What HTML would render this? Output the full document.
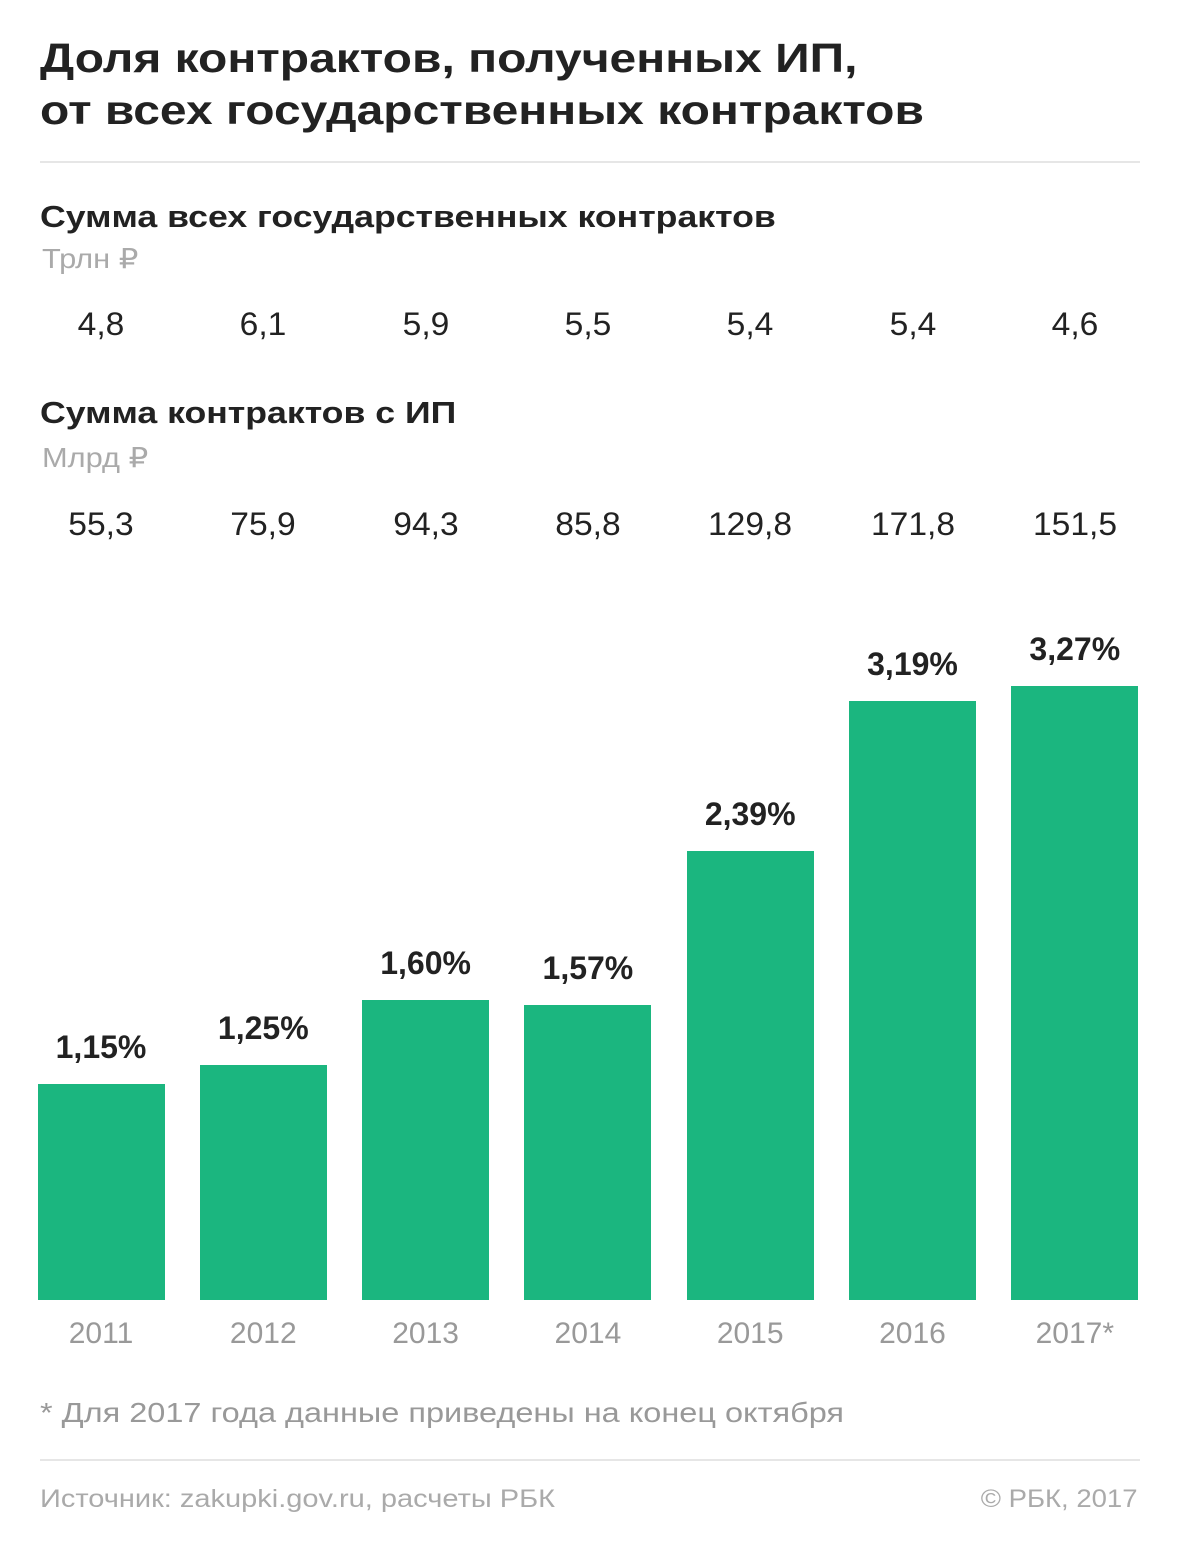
<!DOCTYPE html>
<html><head><meta charset="utf-8">
<style>
body{margin:0;background:#fff;font-family:"Liberation Sans","DejaVu Sans",sans-serif;}
#root{position:relative;width:1180px;height:1546px;overflow:hidden;}
.t{position:absolute;white-space:nowrap;}
.sx{transform-origin:0 0;transform:scaleX(1.16);}
.title{left:40px;font-size:41px;font-weight:bold;color:#222;line-height:52px;transform-origin:0 0;transform:scaleX(1.17);}
.hr{position:absolute;left:40px;width:1100px;height:2px;background:#e6e6e6;}
.sub{left:40px;font-size:31px;font-weight:bold;color:#222;transform-origin:0 0;transform:scaleX(1.15);}
.unit{left:42px;font-size:28px;color:#aaa;transform-origin:0 0;transform:scaleX(1.1);}
.val{font-size:32px;color:#222;transform:translateX(-50%) scaleX(1.05);}
.yr{font-size:30px;color:#999;transform:translateX(-50%);}
.pct{font-size:32px;font-weight:bold;color:#222;transform:translateX(-50%);}
</style></head><body>
<div id="root">
<div class="t title" style="top:32px">Доля контрактов, полученных ИП,<br>от всех государственных контрактов</div>
<div class="hr" style="top:161px"></div>
<div class="t sub" style="top:199px">Сумма всех государственных контрактов</div>
<div class="t unit" style="top:242px">Трлн ₽</div>
<div class="t sub" style="top:395px">Сумма контрактов с ИП</div>
<div class="t unit" style="top:441px">Млрд ₽</div>
<div class="t sx" style="left:40px;top:1397px;font-size:28px;color:#999">* Для 2017 года данные приведены на конец октября</div>
<div class="hr" style="top:1459px"></div>
<div class="t sx" style="left:40px;top:1485px;font-size:25px;color:#aaa">Источник: zakupki.gov.ru, расчеты РБК</div>
<div class="t" style="right:42px;top:1485px;font-size:25px;color:#aaa;transform-origin:100% 0;transform:scaleX(1.1)">© РБК, 2017</div>
</div>
<script>
const years=["2011","2012","2013","2014","2015","2016","2017*"];
const totals=["4,8","6,1","5,9","5,5","5,4","5,4","4,6"];
const ipSums=["55,3","75,9","94,3","85,8","129,8","171,8","151,5"];
const shares=[1.15,1.25,1.60,1.57,2.39,3.19,3.27];
const root=document.getElementById('root');
const base=1300, perUnit=187.8, x0=101, step=162.3, bw=127;
const xc=i=>x0+i*step;
const yv=v=>base-v*perUnit;
function add(cls,txt,x,y){const d=document.createElement('div');d.className='t '+cls;d.textContent=txt;d.style.left=x+'px';d.style.top=y+'px';root.appendChild(d);return d;}
years.forEach((yr,i)=>{
  let d=add('val',totals[i],xc(i),306);
  
  
  d=add('val',ipSums[i],xc(i),506);
  
  
  const b=document.createElement('div');
  b.style.cssText='position:absolute;background:#1bb67f;';
  b.style.left=(xc(i)-bw/2)+'px';b.style.width=bw+'px';
  b.style.top=yv(shares[i])+'px';b.style.height=(base-yv(shares[i]))+'px';
  
  
  root.appendChild(b);
  d=add('pct',shares[i].toFixed(2).replace('.',',')+'%',xc(i),yv(shares[i])-55);
  
  
  d=add('yr',yr,xc(i),1317);
  
  
});
</script>
</body></html>
